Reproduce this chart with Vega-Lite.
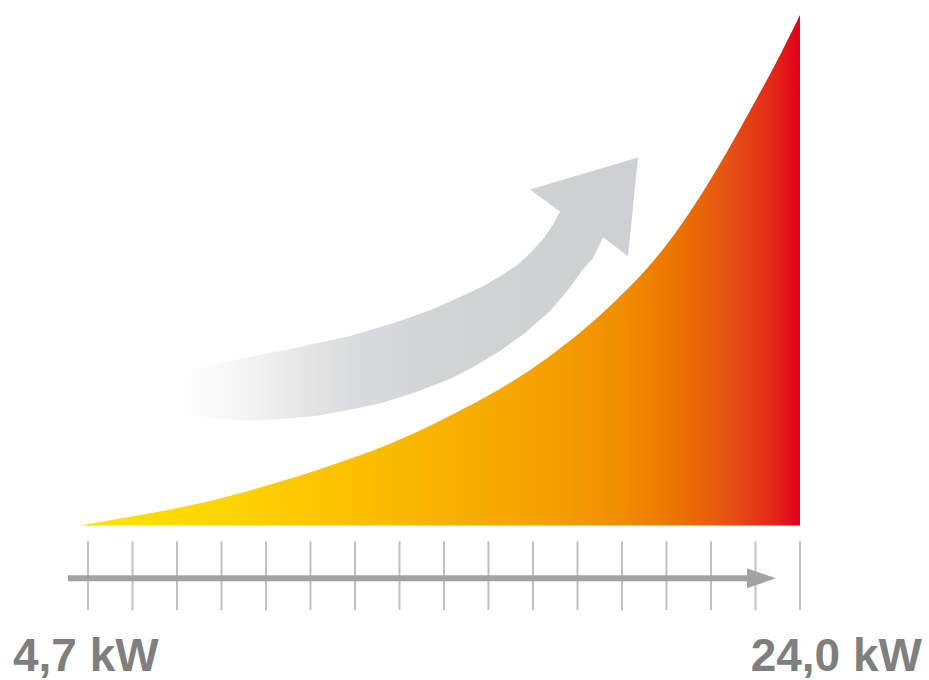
{
  "$schema": "https://vega.github.io/schema/vega-lite/v6.json",
  "width": 929,
  "height": 680,
  "padding": 0,
  "autosize": {"type": "fit", "contains": "padding"},
  "background": "#ffffff",
  "config": {"view": {"stroke": null}},
  "datasets": {
    "curve": [
      {"x": 4.483, "y": 0}, {"x": 5.567, "y": 7}, {"x": 6.652, "y": 14}, {"x": 8.278, "y": 27},
      {"x": 9.823, "y": 43}, {"x": 11.26, "y": 60}, {"x": 12.886, "y": 82}, {"x": 14.513, "y": 110},
      {"x": 15.868, "y": 137}, {"x": 17.223, "y": 170}, {"x": 18.85, "y": 220}, {"x": 20.476, "y": 286},
      {"x": 21.29, "y": 330}, {"x": 22.103, "y": 380}, {"x": 22.645, "y": 416}, {"x": 23.323, "y": 462},
      {"x": 24.0, "y": 512}
    ],
    "bigArrow": [
      {"i": 0, "x": 7.194, "y": 155}, {"i": 1, "x": 8.278, "y": 163}, {"i": 2, "x": 9.362, "y": 171},
      {"i": 3, "x": 10.447, "y": 179}, {"i": 4, "x": 11.802, "y": 190}, {"i": 5, "x": 13.157, "y": 205},
      {"i": 6, "x": 14.052, "y": 217}, {"i": 7, "x": 14.784, "y": 229}, {"i": 8, "x": 15.407, "y": 240},
      {"i": 9, "x": 15.868, "y": 250}, {"i": 10, "x": 16.329, "y": 261}, {"i": 11, "x": 16.681, "y": 273},
      {"i": 12, "x": 17.034, "y": 287}, {"i": 13, "x": 17.278, "y": 300}, {"i": 14, "x": 17.495, "y": 315},
      {"i": 15, "x": 16.681, "y": 337}, {"i": 16, "x": 19.609, "y": 369}, {"i": 17, "x": 19.338, "y": 270},
      {"i": 18, "x": 18.66, "y": 289}, {"i": 19, "x": 18.389, "y": 268}, {"i": 20, "x": 18.118, "y": 257},
      {"i": 21, "x": 17.684, "y": 235}, {"i": 22, "x": 17.223, "y": 215}, {"i": 23, "x": 16.546, "y": 193},
      {"i": 24, "x": 15.868, "y": 175}, {"i": 25, "x": 15.19, "y": 160}, {"i": 26, "x": 14.513, "y": 147},
      {"i": 27, "x": 13.618, "y": 134}, {"i": 28, "x": 12.697, "y": 123}, {"i": 29, "x": 11.802, "y": 116},
      {"i": 30, "x": 10.908, "y": 110}, {"i": 31, "x": 9.986, "y": 107}, {"i": 32, "x": 9.091, "y": 105},
      {"i": 33, "x": 8.143, "y": 107}, {"i": 34, "x": 7.275, "y": 110}, {"i": 35, "x": 7.194, "y": 155}
    ],
    "ticks": [
      {"x": 4.7, "y": -16, "y2": -85}, {"x": 5.906, "y": -16, "y2": -85}, {"x": 7.113, "y": -16, "y2": -85},
      {"x": 8.319, "y": -16, "y2": -85}, {"x": 9.525, "y": -16, "y2": -85}, {"x": 10.731, "y": -16, "y2": -85},
      {"x": 11.938, "y": -16, "y2": -85}, {"x": 13.144, "y": -16, "y2": -85}, {"x": 14.35, "y": -16, "y2": -85},
      {"x": 15.556, "y": -16, "y2": -85}, {"x": 16.763, "y": -16, "y2": -85}, {"x": 17.969, "y": -16, "y2": -85},
      {"x": 19.175, "y": -16, "y2": -85}, {"x": 20.381, "y": -16, "y2": -85}, {"x": 21.588, "y": -16, "y2": -85},
      {"x": 22.794, "y": -16, "y2": -85}, {"x": 24.0, "y": -16, "y2": -85}
    ],
    "shaft": [{"x": 4.158, "x2": 22.645, "y": -53}],
    "head": [
      {"i": 0, "x": 22.564, "y": -43}, {"i": 1, "x": 23.35, "y": -53}, {"i": 2, "x": 22.564, "y": -63}, {"i": 3, "x": 22.564, "y": -43}
    ],
    "labelLeft": [{"x": 2.667, "y": -146, "label": "4,7 kW"}],
    "labelRight": [{"x": 27.307, "y": -146, "label": "24,0 kW"}]
  },
  "encoding": {
    "x": {"field": "x", "type": "quantitative", "scale": {"domain": [2.315, 27.497], "nice": false, "zero": false}, "axis": null},
    "y": {"field": "y", "type": "quantitative", "scale": {"domain": [-153, 527], "nice": false, "zero": false}, "axis": null}
  },
  "layer": [
    {
      "data": {"name": "curve"},
      "mark": {
        "type": "area",
        "interpolate": "monotone",
        "fill": {
          "gradient": "linear", "x1": 0, "y1": 0, "x2": 1, "y2": 0,
          "stops": [
            {"offset": 0, "color": "#FFE400"},
            {"offset": 0.2, "color": "#FFD400"},
            {"offset": 0.35, "color": "#FCC300"},
            {"offset": 0.5, "color": "#F8B200"},
            {"offset": 0.65, "color": "#F4A000"},
            {"offset": 0.75, "color": "#F18E00"},
            {"offset": 0.83, "color": "#EB7300"},
            {"offset": 0.9, "color": "#E65314"},
            {"offset": 0.96, "color": "#E32A18"},
            {"offset": 1, "color": "#E2001A"}
          ]
        }
      }
    },
    {
      "data": {"name": "bigArrow"},
      "mark": {
        "type": "line",
        "filled": true,
        "interpolate": "linear",
        "strokeWidth": 0,
        "fill": {
          "gradient": "linear", "x1": 0, "y1": 0, "x2": 1, "y2": 0,
          "stops": [
            {"offset": 0, "color": "#ffffff"},
            {"offset": 0.12, "color": "#f6f6f6"},
            {"offset": 0.25, "color": "#e8e8e9"},
            {"offset": 0.38, "color": "#dadbdc"},
            {"offset": 0.55, "color": "#d2d4d5"},
            {"offset": 1, "color": "#cdd0d2"}
          ]
        }
      },
      "encoding": {"order": {"field": "i", "type": "quantitative"}}
    },
    {
      "data": {"name": "ticks"},
      "mark": {"type": "rule", "color": "#c0c0c0", "strokeWidth": 2},
      "encoding": {"y2": {"field": "y2"}}
    },
    {
      "data": {"name": "shaft"},
      "mark": {"type": "rule", "color": "#a3a3a3", "strokeWidth": 6},
      "encoding": {"x2": {"field": "x2"}}
    },
    {
      "data": {"name": "head"},
      "mark": {"type": "line", "filled": true, "fill": "#a3a3a3", "strokeWidth": 0, "interpolate": "linear"},
      "encoding": {"order": {"field": "i", "type": "quantitative"}}
    },
    {
      "data": {"name": "labelLeft"},
      "mark": {"type": "text", "font": "Liberation Sans", "fontWeight": "bold", "fontSize": 46, "color": "#7f7f7f", "baseline": "alphabetic", "align": "left"},
      "encoding": {"text": {"field": "label"}}
    },
    {
      "data": {"name": "labelRight"},
      "mark": {"type": "text", "font": "Liberation Sans", "fontWeight": "bold", "fontSize": 46, "color": "#7f7f7f", "baseline": "alphabetic", "align": "right"},
      "encoding": {"text": {"field": "label"}}
    }
  ]
}
